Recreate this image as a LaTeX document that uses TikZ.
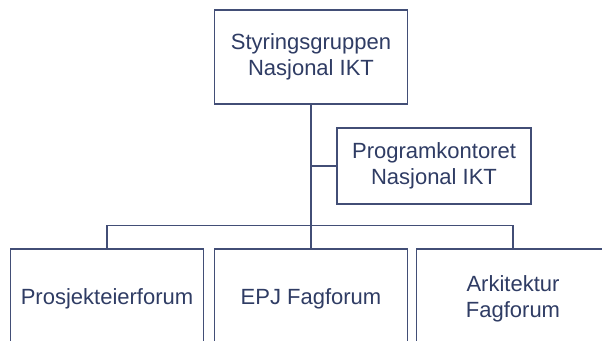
\documentclass[tikz,border=0pt]{standalone}
\usepackage{fontspec}
\setmainfont{Liberation Sans}
\usetikzlibrary{positioning}
\definecolor{orgline}{RGB}{66,78,118}
\definecolor{orgtext}{RGB}{47,60,100}

\begin{document}
\begin{tikzpicture}[x=1pt,y=1pt,
  orgbox/.style={rectangle, draw=orgline, line width=1.2pt, fill=white, text=orgtext, align=center,
    font=\fontsize{22}{26}\selectfont, minimum width=193pt, inner sep=0pt},
  orgwire/.style={draw=orgline, line width=1.2pt}]
\useasboundingbox (0,0) rectangle (602,340);
\clip (0,0) rectangle (602,340);
% Top level
\node[orgbox, minimum height=94pt] (styring) at (311,283) {Styringsgruppen\\Nasjonal IKT};
\node[orgbox, minimum width=194pt, minimum height=76pt] (program) at (434,174) {Programkontoret\\Nasjonal IKT};

% Forums
\node[orgbox, minimum height=100pt] (prosjekt) at (107,41) {Prosjekteierforum};
\node[orgbox, minimum height=100pt] (epj) at (311,41) {EPJ Fagforum};
\node[orgbox, minimum height=100pt] (arkitektur) at (513,41) {Arkitektur\\Fagforum};

% Lines
\draw[orgwire] (styring.south) -- (epj.north);
\draw[orgwire] (program.west) -- (program.west -| styring.south);
\draw[orgwire] (prosjekt.north) -- ++(0,23) -| (arkitektur.north);
\end{tikzpicture}
\end{document}
